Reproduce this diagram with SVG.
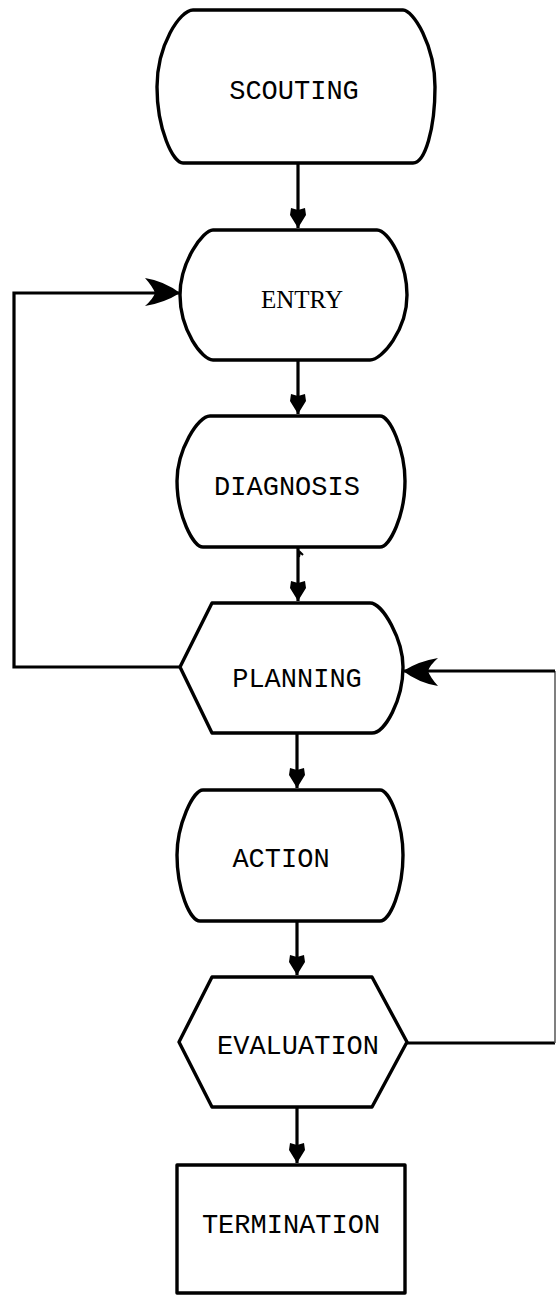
<svg xmlns="http://www.w3.org/2000/svg" width="556" height="1297" viewBox="0 0 556 1297">
<style>
.shape{fill:#fff;stroke:#000;stroke-width:3.4;stroke-linejoin:round}
.lbl{font-family:"Liberation Mono","DejaVu Sans Mono",monospace;font-size:27px;fill:#000;text-anchor:middle}
.serif{font-family:"Liberation Serif","DejaVu Serif",serif;font-size:25px;fill:#000;text-anchor:middle}
.con{fill:none;stroke:#000;stroke-width:3.2}
.thin{fill:none;stroke:#555;stroke-width:1.5}
</style>
<defs>
<marker id="arr" viewBox="-22 -10 24 20" refX="0" refY="0" markerWidth="24" markerHeight="20" markerUnits="userSpaceOnUse" orient="auto">
<path d="M0,0 L-13,-8 L-20,-7 L-18,0 L-20,7 L-13,8 Z" fill="#000"/>
</marker>
<marker id="big" viewBox="-38 -17 40 34" refX="0" refY="0" markerWidth="40" markerHeight="34" markerUnits="userSpaceOnUse" orient="auto">
<path d="M0,0 Q-16,-12 -35,-15 Q-27,-6 -25,0 Q-27,6 -35,13 Q-16,10 0,0 Z" fill="#000"/>
</marker>
</defs>
<g id="connectors">
<path class="con" d="M298,163 L298,228" marker-end="url(#arr)"/>
<path class="con" d="M298,360 L298,414" marker-end="url(#arr)"/>
<path class="con" d="M298,547 L298,601" marker-end="url(#arr)"/>
<path class="con" d="M297,733 L297,788" marker-end="url(#arr)"/>
<path class="con" d="M297,921 L297,975" marker-end="url(#arr)"/>
<path class="con" d="M297,1107 L297,1163" marker-end="url(#arr)"/>
<path class="con" d="M180,667 L14,667 L14,293 L180,293" marker-end="url(#big)"/>
<path class="con" d="M407,1043 L555,1043"/>
<path class="thin" d="M555,1043 L555,671"/>
<path class="con" d="M555,671 L403,671" marker-end="url(#big)"/>
<path fill="none" stroke="#000" stroke-width="2" d="M299,557 L300,552 L303,555"/>
</g>
<g id="scouting">
<path class="shape" d="M193,10 L403,10 C413,10 435,45 435,87 C435,129 425,163 413,163 L183,163 C173,163 157,129 157,87 C157,45 180,10 193,10 Z"/>
<text class="lbl" x="294" y="99">SCOUTING</text>
</g>
<g id="entry">
<path class="shape" d="M213,230 L377,230 C388,230 407,262 407,295 C407,330 382,360 370,360 L213,360 C202,360 180,330 180,295 C180,262 203,230 213,230 Z"/>
<text class="serif" x="302" y="308">ENTRY</text>
</g>
<g id="diagnosis">
<path class="shape" d="M210,416 L380,416 C390,416 405,450 405,481 C405,515 390,547 380,547 L203,547 C193,547 177,515 177,481 C177,450 198,416 210,416 Z"/>
<text class="lbl" x="287" y="495">DIAGNOSIS</text>
</g>
<g id="planning">
<path class="shape" d="M212,603 L370,603 C383,603 403,640 403,667 C403,700 385,733 372,733 L212,733 L180,667 Z"/>
<text class="lbl" x="297" y="687">PLANNING</text>
</g>
<g id="action">
<path class="shape" d="M203,790 L380,790 C390,790 403,825 403,855 C403,890 390,921 380,921 L200,921 C190,921 177,890 177,855 C177,825 193,790 203,790 Z"/>
<text class="lbl" x="281" y="867">ACTION</text>
</g>
<g id="evaluation">
<path class="shape" d="M212,977 L372,977 L407,1042 L372,1107 L212,1107 L179,1042 Z"/>
<text class="lbl" x="298" y="1054">EVALUATION</text>
</g>
<g id="termination">
<rect class="shape" x="177" y="1165" width="228" height="128" stroke-linejoin="miter"/>
<text class="lbl" x="291" y="1233">TERMINATION</text>
</g>
</svg>
